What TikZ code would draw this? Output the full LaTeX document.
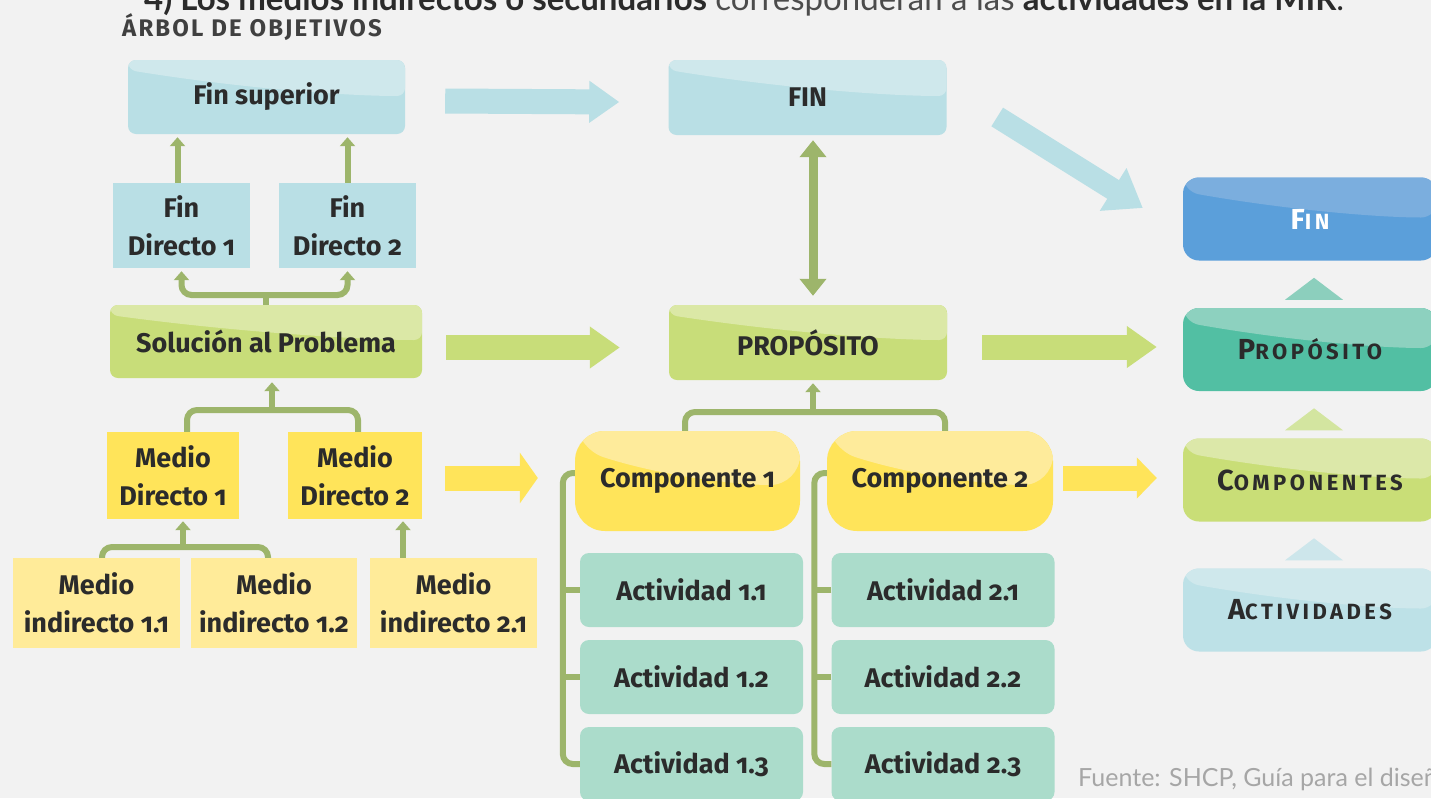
\documentclass[tikz,border=0pt]{standalone}
\usepackage{fontspec}
\setmainfont{Fira Sans}
\newfontfamily\dfont[Numbers=OldStyle]{Fira Sans}
\newfontfamily\rfont[LetterSpace=16]{Fira Sans}
\newfontfamily\tfont{Lato}
\newfontfamily\hfont[LetterSpace=9]{Fira Sans}
\usetikzlibrary{arrows.meta,calc}
\definecolor{bg}{HTML}{F2F2F2}
\definecolor{txt}{HTML}{2B2B2B}
\definecolor{lblue}{HTML}{B9DFE5}
\definecolor{lbluetop}{HTML}{CFE8EC}
\definecolor{lgreen}{HTML}{C8DD79}
\definecolor{lgreentop}{HTML}{DBE8A6}
\definecolor{yel}{HTML}{FFE45A}
\definecolor{yeltop}{HTML}{FEEB9B}
\definecolor{yelind}{HTML}{FFEB99}
\definecolor{act}{HTML}{ABDCCB}
\definecolor{conn}{HTML}{9DB56B}
\definecolor{rblue}{HTML}{5B9FDA}
\definecolor{rbluetop}{HTML}{7BAEDE}
\definecolor{rteal}{HTML}{52BFA3}
\definecolor{rtealtop}{HTML}{8DD1BF}
\definecolor{rgreen}{HTML}{C9DE77}
\definecolor{rgreentop}{HTML}{DCE8A9}
\definecolor{rlblue}{HTML}{BDE1E7}
\definecolor{rlbluetop}{HTML}{CFE8EC}
\definecolor{tri1}{HTML}{8CCFBD}
\definecolor{tri2}{HTML}{D3E5A0}
\definecolor{tri3}{HTML}{CDE6EB}
\newcommand\mysc[2]{{\fontsize{29}{30}\selectfont#1}{\fontsize{22}{30}\selectfont#2}}
\tikzset{
  box/.style={draw=none, inner sep=0pt, align=center, text=txt,
    font=\dfont\bfseries\fontsize{27}{38}\selectfont},
  rbox/.style={box, rounded corners=16pt, minimum width=254pt, minimum height=83pt,
    font=\rfont\bfseries},
  gl/.style n args={3}{path picture={
    \fill[#1] ($(path picture bounding box.north west)+(0pt,-#2pt)$)
      .. controls ($(path picture bounding box.north west)!0.4!(path picture bounding box.north east)+(0pt,-#3pt+8pt)$)
      and ($(path picture bounding box.north east)+(-60pt,-#3pt)$)
      .. ($(path picture bounding box.north east)+(0pt,-#3pt)$)
      -- (path picture bounding box.north east) -- (path picture bounding box.north west) -- cycle;}},
  conn/.style={draw=conn, line width=6pt},
  arr/.style={-{Triangle[length=9pt,width=15pt]}},
  barrow/.style={line width=25pt, -{Triangle[length=30pt,width=40pt]}},
}
\begin{document}
\begin{tikzpicture}[x=1pt, y=-1pt]
\useasboundingbox (0,0) rectangle (1431,798);
\clip (0,0) rectangle (1431,798);
\fill[bg] (0,0) rectangle (1431,798);

% header texts
\node[anchor=base west, inner sep=0pt, font=\tfont\fontsize{33}{35}\selectfont, text=txt] (top) at (144,10)
  {\textbf{4) Los medios indirectos o secundarios} {\color{black!70}corresponderán a las} \textbf{actividades en la MIR}.};
\node[anchor=base west, inner sep=0pt, font=\hfont\bfseries\fontsize{24}{26}\selectfont, text=black!75] (title) at (122,36) {ÁRBOL DE OBJETIVOS};
\node[anchor=base west, inner sep=0pt, font=\tfont\fontsize{25}{27}\selectfont, text=black!35] (src) at (1078,786) {Fuente: SHCP, Guía para el diseñ};

% left column
\node[box, fill=lblue, rounded corners=8pt, minimum width=277pt, minimum height=74pt, gl={lbluetop}{10}{36}] (fs) at (266.5,97) {Fin superior};
\node[box, fill=lblue, minimum width=137pt, minimum height=85pt] (fd1) at (181.5,225.5) {Fin\\Directo 1};
\node[box, fill=lblue, minimum width=137pt, minimum height=85pt] (fd2) at (347.5,225.5) {Fin\\Directo 2};
\node[box, fill=lgreen, rounded corners=8pt, minimum width=312pt, minimum height=73pt, gl={lgreentop}{10}{35}] (sol) at (266,341.5) {Solución al Problema};
\node[box, fill=yel, minimum width=132pt, minimum height=87pt] (md1) at (173,475.5) {Medio\\Directo 1};
\node[box, fill=yel, minimum width=134pt, minimum height=87pt] (md2) at (355,475.5) {Medio\\Directo 2};
\node[box, fill=yelind, minimum width=167pt, minimum height=90pt] (mi1) at (96.5,603) {Medio\\indirecto 1.1};
\node[box, fill=yelind, minimum width=166pt, minimum height=90pt] (mi2) at (274,603) {Medio\\indirecto 1.2};
\node[box, fill=yelind, minimum width=167pt, minimum height=90pt] (mi3) at (453.5,603) {Medio\\indirecto 2.1};

% middle column
\node[box, fill=lblue, rounded corners=8pt, minimum width=278pt, minimum height=75pt, gl={lbluetop}{10}{36}] (fin) at (807.5,97.5) {FIN};
\node[box, fill=lgreen, rounded corners=8pt, minimum width=278pt, minimum height=75pt, gl={lgreentop}{10}{35}] (prop) at (808,342.5) {PROPÓSITO};
\node[box, fill=yel, rounded corners=30pt, minimum width=225pt, minimum height=100pt, gl={yeltop}{17}{54}] (c1) at (687.5,481) {Componente 1};
\node[box, fill=yel, rounded corners=30pt, minimum width=226pt, minimum height=100pt, gl={yeltop}{17}{54}] (c2) at (940,481) {Componente 2};
\foreach \n/\x/\y/\t in {a11/691.5/590/Actividad 1.1, a12/691.5/677/Actividad 1.2, a13/691.5/764/Actividad 1.3,
                        a21/943/590/Actividad 2.1, a22/943/677/Actividad 2.2, a23/943/764/Actividad 2.3}
  \node[box, fill=act, rounded corners=9pt, minimum width=223pt, minimum height=74pt] (\n) at (\x,\y) {\t};

% right column
\node[rbox, fill=rblue, text=white, gl={rbluetop}{14}{40}] (rfin) at (1310,219) {\mysc{F}{IN}};
\node[rbox, fill=rteal, gl={rtealtop}{14}{40}] (rprop) at (1310,349.5) {\mysc{P}{ROPÓSITO}};
\node[rbox, fill=rgreen, gl={rgreentop}{14}{40}] (rcomp) at (1310,480) {\mysc{C}{OMPONENTES}};
\node[rbox, fill=rlblue, gl={rlbluetop}{14}{40}] (ract) at (1310,610) {\mysc{A}{CTIVIDADES}};
\fill[tri1] ($(rprop.north)+(-25pt,8pt)$) -- ($(rprop.north)+(4pt,30pt)$) -- ($(rprop.north)+(33pt,8pt)$) -- cycle;
\fill[tri2] ($(rcomp.north)+(-25pt,8pt)$) -- ($(rcomp.north)+(4pt,30pt)$) -- ($(rcomp.north)+(33pt,8pt)$) -- cycle;
\fill[tri3] ($(ract.north)+(-25pt,8pt)$) -- ($(ract.north)+(4pt,30pt)$) -- ($(ract.north)+(33pt,8pt)$) -- cycle;

% connectors: left tree
\draw[conn, arr, shorten >=3pt] ([xshift=-4pt]fd1.north) -- ([xshift=-4pt]fd1.north |- fs.south);
\draw[conn, arr, shorten >=3pt] (fd2.north) -- (fd2.north |- fs.south);
\coordinate (j1) at (266,295);
\draw[conn, rounded corners=10pt, {Triangle[length=9pt,width=15pt]}-{Triangle[length=9pt,width=15pt]}, shorten <=3pt, shorten >=3pt]
  (fd1.south) |- (j1) -| (fd2.south);
\draw[conn] (sol.north) -- (j1);
\coordinate (j2) at (272,410);
\draw[conn, rounded corners=10pt] ([xshift=14pt]md1.north) |- (j2) -| ([xshift=3pt]md2.north);
\draw[conn, arr, shorten >=4pt] (j2) -- (j2 |- sol.south);
\coordinate (j3) at (183,547);
\draw[conn, rounded corners=10pt] ([xshift=5.5pt]mi1.north) |- (j3) -| ([xshift=-6pt]mi2.north);
\draw[conn, arr, shorten >=2pt] (j3) -- (j3 |- md1.south);
\draw[conn, arr, shorten >=2pt] ([xshift=-50.5pt]mi3.north) -- ([xshift=-50.5pt]mi3.north |- md2.south);

% connectors: middle tree
\draw[draw=conn, line width=9pt, {Triangle[length=17pt,width=26pt]}-{Triangle[length=17pt,width=26pt]}, shorten <=5pt, shorten >=9pt]
  ([xshift=5.5pt]fin.south) -- ([xshift=5.5pt]fin.south |- prop.north);
\coordinate (j4) at (813,412);
\draw[conn, rounded corners=10pt] ([xshift=-2.5pt]c1.north) |- (j4) -| ([xshift=5pt]c2.north);
\draw[conn, arr, shorten >=3pt] (j4) -- (j4 |- prop.south);
\draw[conn, rounded corners=10pt] ([yshift=8pt]c1.west) -| ([xshift=-17pt]a13.west) -- (a13.west);
\draw[conn] (a11.west) -- ++(-17,0);
\draw[conn] (a12.west) -- ++(-17,0);
\draw[conn, rounded corners=10pt] ([yshift=8pt]c2.west) -| ([xshift=-17pt]a23.west) -- (a23.west);
\draw[conn] (a21.west) -- ++(-17,0);
\draw[conn] (a22.west) -- ++(-17,0);

% block arrows
\draw[barrow, draw=lblue] ($(fs.east)+(40pt,-4pt)$) -- ($(fin.west)+(-49pt,-4.5pt)$);
\draw[barrow, draw=lgreen] ($(sol.east)+(24pt,-6pt)$) -- ($(prop.west)+(-49pt,-5pt)$);
\draw[line width=25pt, draw=yel, -{Triangle[length=18pt,width=50pt]}] ($(md2.east)+(23pt,-2.5pt)$) -- ($(c1.west)+(-37pt,3pt)$);
\draw[line width=22pt, draw=lblue, -{Triangle[length=35pt,width=48pt]}] ($(fin.east)+(50.5pt,-19.5pt)$) -- ($(rfin.west)+(-40pt,11pt)$);
\draw[barrow, draw=lgreen] ($(prop.east)+(35pt,-4.5pt)$) -- ($(rprop.west)+(-26pt,2.5pt)$);
\draw[line width=25pt, draw=yel, -{Triangle[length=20pt,width=40pt]}] ($(c2.east)+(10pt,3pt)$) -- ($(rcomp.west)+(-26pt,2pt)$);
\end{tikzpicture}
\end{document}
